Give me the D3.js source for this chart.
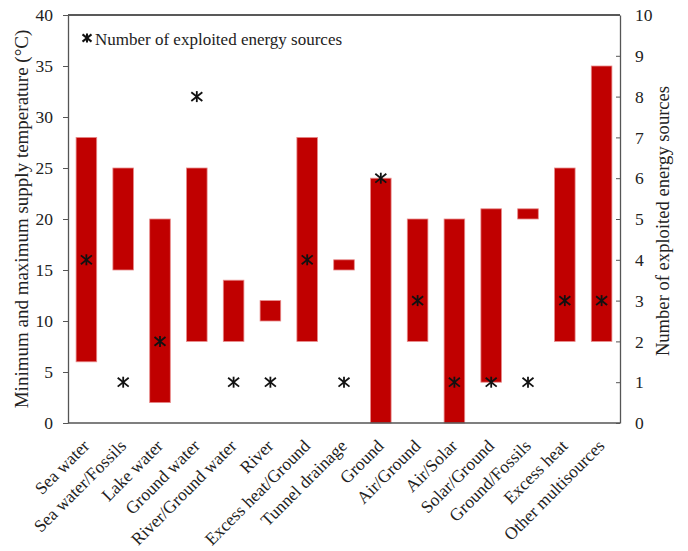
<!DOCTYPE html>
<html>
<head>
<meta charset="utf-8">
<script src="https://cdn.jsdelivr.net/npm/d3@7/dist/d3.min.js"></script>
<style>
  html, body { margin: 0; padding: 0; background: #fff; }
</style>
</head>
<body>
<svg id="chart" width="688" height="551"></svg>
<script>
// Heat source categories
const categories = ["Sea water", "Sea water/Fossils", "Lake water", "Ground water",
  "River/Ground water", "River", "Excess heat/Ground", "Tunnel drainage", "Ground",
  "Air/Ground", "Air/Solar", "Solar/Ground", "Ground/Fossils", "Excess heat",
  "Other multisources"];
// Minimum and maximum supply temperature (°C)
const minTemp = [6, 15, 2, 8, 8, 10, 8, 15, 0, 8, 0, 4, 20, 8, 8];
const maxTemp = [28, 25, 20, 25, 14, 12, 28, 16, 24, 20, 20, 21, 21, 25, 35];
// Number of exploited energy sources
const sourceCount = [4, 1, 2, 8, 1, 1, 4, 1, 6, 3, 1, 1, 1, 3, 3];
const leftTicks = [0, 5, 10, 15, 20, 25, 30, 35, 40];
const rightTicks = [0, 1, 2, 3, 4, 5, 6, 7, 8, 9, 10];

const FONT = '"Liberation Serif"';
const svg = d3.select("#chart");
const m = { left: 68, right: 620, top: 15, bottom: 423 };

const x = d3.scaleBand().domain(categories).range([m.left, m.right]).paddingInner(0.44).paddingOuter(0.22);
const yL = d3.scaleLinear().domain([0, 40]).range([m.bottom, m.top]);
const yR = d3.scaleLinear().domain([0, 10]).range([m.bottom, m.top]);

// Floating temperature bars
svg.append("g").selectAll("rect").data(categories).join("rect")
  .attr("x", d => x(d))
  .attr("width", x.bandwidth())
  .attr("y", (d, i) => yL(maxTemp[i]))
  .attr("height", (d, i) => yL(minTemp[i]) - yL(maxTemp[i]))
  .attr("fill", "#c00000")
  .attr("stroke", "#e88a8a")
  .attr("stroke-width", 0.8);

// Frame: top and bottom lines
svg.append("line").attr("x1", m.left).attr("x2", m.right).attr("y1", m.top).attr("y2", m.top)
  .attr("stroke", "#222").attr("stroke-width", 1.3);
svg.append("line").attr("x1", m.left).attr("x2", m.right).attr("y1", m.bottom).attr("y2", m.bottom)
  .attr("stroke", "#555").attr("stroke-width", 1.3);

// Left axis
const gL = svg.append("g").attr("transform", `translate(${m.left},0)`)
  .call(d3.axisLeft(yL).tickValues(leftTicks).tickSize(5).tickPadding(10).tickSizeOuter(0));
gL.select(".domain").attr("stroke", "#555").attr("stroke-width", 1.3);
gL.selectAll(".tick line").attr("stroke", "#555");

// Right axis (ticks pointing inward)
const gR = svg.append("g").attr("transform", `translate(${m.right},0)`)
  .call(d3.axisRight(yR).tickValues(rightTicks).tickSize(-4).tickPadding(15).tickSizeOuter(0));
gR.select(".domain").attr("stroke", "#555").attr("stroke-width", 1.3);
gR.selectAll(".tick line").attr("stroke", "#555");

// Category labels, rotated
const gX = svg.append("g").attr("transform", `translate(0,${m.bottom})`)
  .call(d3.axisBottom(x).tickSize(0).tickPadding(0));
gX.select(".domain").remove();
gX.selectAll("text")
  .attr("text-anchor", "end")
  .attr("dy", null).attr("y", 0)
  .attr("transform", "translate(4,24) rotate(-45)");

// Asterisk marker
function star(g, cx, cy, s, w) {
  const lines = [[-s, -s * 0.8, s, s * 0.8], [-s, s * 0.8, s, -s * 0.8], [0, -s, 0, s]];
  g.selectAll(null).data(lines).join("line")
    .attr("x1", d => cx + d[0]).attr("y1", d => cy + d[1])
    .attr("x2", d => cx + d[2]).attr("y2", d => cy + d[3])
    .attr("stroke", "#111").attr("stroke-width", w);
}
const gS = svg.append("g");
categories.forEach((c, i) => {
  star(gS.append("g"), x(c) + x.bandwidth() / 2, yR(sourceCount[i]), 5.5, 1.8);
});

// Legend
star(svg.append("g"), 87, 38, 4.5, 2);
const legendText = svg.append("text").attr("x", 95).attr("y", 45)
  .text("Number of exploited energy sources");

// Axis titles
const titleL = svg.append("text")
  .attr("transform", `translate(28,${(m.top + m.bottom) / 2}) rotate(-90)`)
  .attr("text-anchor", "middle")
  .text("Minimum and maximum supply temperature (°C)");
const titleR = svg.append("text")
  .attr("transform", `translate(669,${(m.top + m.bottom) / 2 + 2}) rotate(-90)`)
  .attr("text-anchor", "middle")
  .text("Number of exploited energy sources");

// Shared text styling
svg.selectAll("text")
  .style("font-family", FONT)
  .style("font-size", "17.5px")
  .style("fill", "#222");
legendText.style("font-size", "17px");
titleL.style("font-size", "19px");
titleR.style("font-size", "18.6px");
</script>
</body>
</html>
